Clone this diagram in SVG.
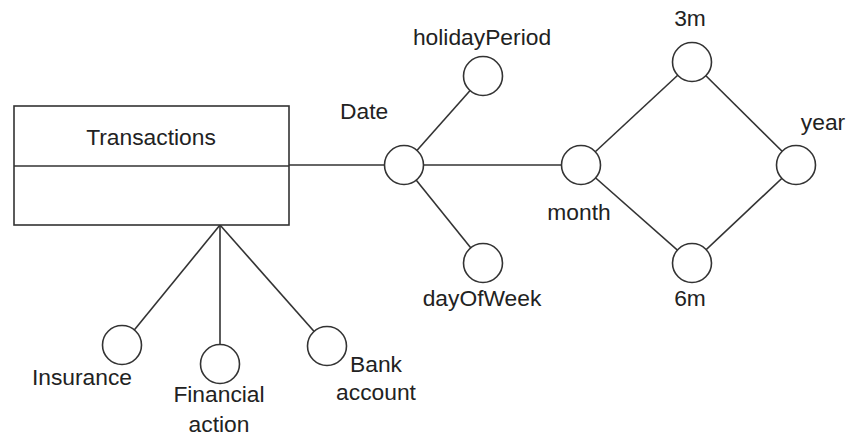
<svg xmlns="http://www.w3.org/2000/svg" width="856" height="443" viewBox="0 0 856 443">
  <style>
    .edge { stroke: #333; stroke-width: 1.6; fill: none; }
    .ent { stroke: #333; stroke-width: 1.6; fill: #fff; }
    .lvl { stroke: #333; stroke-width: 1.6; fill: #fff; }
    .lbl { font-family: "Liberation Sans", Arial, sans-serif; font-size: 22.8px; fill: #222; }
  </style>
  <rect width="856" height="443" fill="#fff"/>

  <!-- connectors: drawn centre to centre, circles cover the ends -->
  <g id="connectors">
    <line class="edge" x1="289" y1="165" x2="404" y2="165"/>
    <line class="edge" x1="404" y1="165" x2="581" y2="165"/>
    <line class="edge" x1="404" y1="165" x2="483" y2="76"/>
    <line class="edge" x1="404" y1="165" x2="483" y2="263"/>
    <line class="edge" x1="581" y1="165" x2="692" y2="62"/>
    <line class="edge" x1="581" y1="165" x2="692" y2="263"/>
    <line class="edge" x1="692" y1="62" x2="796" y2="165"/>
    <line class="edge" x1="692" y1="263" x2="796" y2="165"/>
    <line class="edge" x1="220" y1="225" x2="122" y2="345"/>
    <line class="edge" x1="220" y1="225" x2="220" y2="364"/>
    <line class="edge" x1="220" y1="225" x2="327" y2="346"/>
  </g>

  <g id="transactions">
    <rect class="ent" x="14" y="106" width="275" height="119"/>
    <line class="edge" x1="14" y1="166" x2="289" y2="166"/>
    <text class="lbl" x="151" y="145" text-anchor="middle">Transactions</text>
  </g>

  <g id="date">
    <circle class="lvl" cx="404" cy="165" r="19.5"/>
    <text class="lbl" x="340" y="119">Date</text>
  </g>
  <g id="holidayPeriod">
    <circle class="lvl" cx="483" cy="76" r="19.5"/>
    <text class="lbl" x="482" y="45" text-anchor="middle">holidayPeriod</text>
  </g>
  <g id="dayOfWeek">
    <circle class="lvl" cx="483" cy="263" r="19.5"/>
    <text class="lbl" x="482" y="306" text-anchor="middle">dayOfWeek</text>
  </g>
  <g id="month">
    <circle class="lvl" cx="581" cy="165" r="19.5"/>
    <text class="lbl" x="579" y="220" text-anchor="middle">month</text>
  </g>
  <g id="m3">
    <circle class="lvl" cx="692" cy="62" r="19.5"/>
    <text class="lbl" x="690" y="26" text-anchor="middle">3m</text>
  </g>
  <g id="m6">
    <circle class="lvl" cx="692" cy="263" r="19.5"/>
    <text class="lbl" x="690" y="306" text-anchor="middle">6m</text>
  </g>
  <g id="year">
    <circle class="lvl" cx="796" cy="165" r="19.5"/>
    <text class="lbl" x="823" y="130" text-anchor="middle">year</text>
  </g>

  <g id="insurance">
    <circle class="lvl" cx="122" cy="345" r="19.5"/>
    <text class="lbl" x="82" y="385" text-anchor="middle">Insurance</text>
  </g>
  <g id="financialAction">
    <circle class="lvl" cx="220" cy="364" r="19.5"/>
    <text class="lbl" x="219" y="402" text-anchor="middle">Financial</text>
    <text class="lbl" x="219" y="432" text-anchor="middle">action</text>
  </g>
  <g id="bankAccount">
    <circle class="lvl" cx="327" cy="346" r="19.5"/>
    <text class="lbl" x="376" y="372" text-anchor="middle">Bank</text>
    <text class="lbl" x="376" y="400" text-anchor="middle">account</text>
  </g>
</svg>
